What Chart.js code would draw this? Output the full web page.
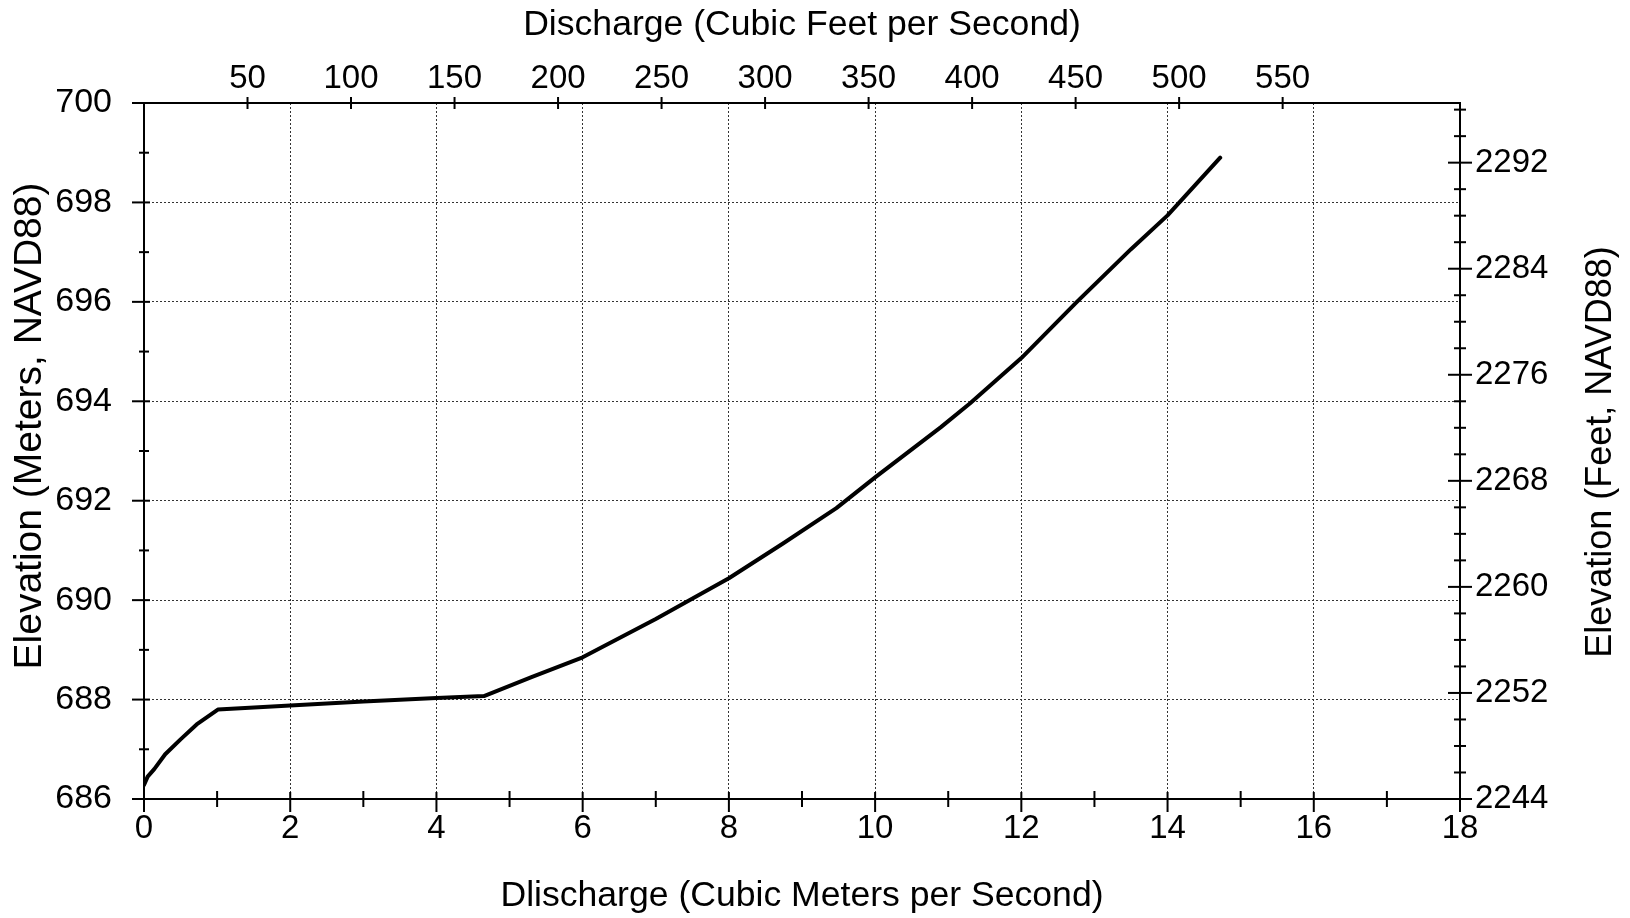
<!DOCTYPE html>
<html><head><meta charset="utf-8">
<script src="https://cdn.jsdelivr.net/npm/chart.js@4/dist/chart.umd.min.js"></script>
<style>html,body{margin:0;padding:0;background:#fff;}canvas{display:block;}</style>
</head><body>
<canvas id="c" width="1630" height="918"></canvas>
<script>
// ---- data ----
const dischargeCms = [0, 0.05, 0.14, 0.29, 0.5, 0.72, 1.01, 2.0, 3.0, 4.0, 4.65, 5.3, 6.0, 7.0, 8.0, 8.74, 9.47, 10.0, 10.9, 11.3, 12.0, 12.76, 13.5, 14.0, 14.72];
const elevationM   = [686.28, 686.45, 686.6, 686.9, 687.2, 687.5, 687.8, 687.88, 687.96, 688.03, 688.07, 688.45, 688.85, 689.62, 690.44, 691.14, 691.85, 692.47, 693.48, 693.96, 694.87, 696.0, 697.06, 697.74, 698.9];

// ---- tick lists ----
const xMajorTicks = [0, 2, 4, 6, 8, 10, 12, 14, 16, 18];
const xMinorTicks = [1, 3, 5, 7, 9, 11, 13, 15, 17];
const yMajorTicks = [686, 688, 690, 692, 694, 696, 698, 700];
const yMinorTicks = [687, 689, 691, 693, 695, 697, 699];
const cfsTicks = [50, 100, 150, 200, 250, 300, 350, 400, 450, 500, 550];
const feetMajorTicks = [2244, 2252, 2260, 2268, 2276, 2284, 2292];
const feetMinorTicks = [2246, 2248, 2250, 2254, 2256, 2258, 2262, 2264, 2266, 2270, 2272, 2274, 2278, 2280, 2282, 2286, 2288, 2290, 2294, 2296];

const CFS_PER_CMS = 35.3147;
const X_MIN = 0, X_MAX = 18, Y_MIN = 686, Y_MAX = 700, FT_MIN = 2244, FT_MAX = 2296.5;

const LEFT_TITLE = 'Elevation (Meters, NAVD88)';
const RIGHT_TITLE = 'Elevation (Feet, NAVD88)';

const FONT = '"Liberation Sans", Arial, Helvetica, sans-serif';
const tickFont = {family: FONT, size: 33};
const titleFont = {family: FONT, size: 35.6};
const GRID = '#333';

const frameTicks = {
  id: 'frameTicks',
  beforeDatasetsDraw(chart) {
    const {ctx, chartArea: a, scales} = chart;
    ctx.save();
    ctx.strokeStyle = '#000';
    ctx.lineWidth = 2;
    ctx.setLineDash([]);
    ctx.strokeRect(a.left, a.top, a.right - a.left, a.bottom - a.top);
    const seg = (x1, y1, x2, y2) => { ctx.beginPath(); ctx.moveTo(x1, y1); ctx.lineTo(x2, y2); ctx.stroke(); };
    xMajorTicks.forEach(v => { const p = scales.x.getPixelForValue(v); seg(p, a.bottom - 7, p, a.bottom + 13); });
    xMinorTicks.forEach(v => { const p = scales.x.getPixelForValue(v); seg(p, a.bottom - 8, p, a.bottom + 8); });
    cfsTicks.forEach(v => { const p = scales.x2.getPixelForValue(v); seg(p, a.top - 6, p, a.top + 6); });
    yMajorTicks.forEach(v => { const p = scales.y.getPixelForValue(v); seg(a.left - 12, p, a.left + 6, p); });
    yMinorTicks.forEach(v => { const p = scales.y.getPixelForValue(v); seg(a.left - 5, p, a.left + 5, p); });
    feetMajorTicks.forEach(v => { const p = scales.y2.getPixelForValue(v); seg(a.right - 12, p, a.right + 12, p); });
    feetMinorTicks.forEach(v => { const p = scales.y2.getPixelForValue(v); seg(a.right - 6, p, a.right + 6, p); });
    ctx.restore();
  },
  afterDraw(chart) {
    const {ctx, chartArea: a, width} = chart;
    const midY = (a.top + a.bottom) / 2;
    const vtext = (txt, x, y, size) => {
      ctx.save();
      ctx.translate(x, y);
      ctx.rotate(-Math.PI / 2);
      ctx.fillStyle = '#000';
      ctx.font = size + 'px ' + FONT;
      ctx.textAlign = 'center';
      ctx.textBaseline = 'middle';
      ctx.fillText(txt, 0, 0);
      ctx.restore();
    };
    vtext(LEFT_TITLE, 30, midY - 25, 39);
    vtext(RIGHT_TITLE, width - 29, midY + 1, 36);
  }
};

const interior = (lo, hi) => ctx => (ctx.tick && ctx.tick.value > lo && ctx.tick.value < hi) ? GRID : 'rgba(0,0,0,0)';
const plain = v => String(v);

new Chart(document.getElementById('c'), {
  type: 'line',
  data: {
    datasets: [{
      data: dischargeCms.map((x, i) => ({x: x, y: elevationM[i]})),
      borderColor: '#000',
      borderWidth: 4,
      pointRadius: 0,
      tension: 0,
      borderCapStyle: 'round',
      borderJoinStyle: 'round',
      fill: false,
      xAxisID: 'x',
      yAxisID: 'y'
    }]
  },
  options: {
    responsive: false,
    animation: false,
    devicePixelRatio: 1,
    layout: {padding: 0},
    plugins: {legend: {display: false}, tooltip: {enabled: false}},
    scales: {
      x: {
        type: 'linear', position: 'bottom', min: X_MIN, max: X_MAX,
        afterBuildTicks: s => { s.ticks = xMajorTicks.map(v => ({value: v})); },
        afterFit: s => { s.height = 119; },
        grid: {drawTicks: false, color: interior(X_MIN, X_MAX), lineWidth: 1},
        border: {display: false, dash: [2, 2]},
        ticks: {padding: 10, color: '#000', font: tickFont, maxRotation: 0, autoSkip: false, callback: plain},
        title: {display: true, text: 'Dlischarge (Cubic Meters per Second)', color: '#000', font: titleFont, padding: {top: 0, bottom: 0}}
      },
      x2: {
        type: 'linear', position: 'top', min: X_MIN, max: X_MAX * CFS_PER_CMS,
        afterBuildTicks: s => { s.ticks = cfsTicks.map(v => ({value: v})); },
        afterFit: s => { s.height = 103; },
        grid: {drawTicks: false, drawOnChartArea: false},
        border: {display: false},
        ticks: {padding: 4, color: '#000', font: tickFont, maxRotation: 0, autoSkip: false, callback: plain},
        title: {display: true, text: 'Discharge (Cubic Feet per Second)', color: '#000', font: titleFont, padding: {top: 4, bottom: 0}}
      },
      y: {
        type: 'linear', position: 'left', min: Y_MIN, max: Y_MAX,
        afterBuildTicks: s => { s.ticks = yMajorTicks.map(v => ({value: v})); },
        afterFit: s => { s.width = 144; },
        grid: {drawTicks: false, color: interior(Y_MIN, Y_MAX), lineWidth: 1},
        border: {display: false, dash: [2, 2]},
        ticks: {padding: 32, color: '#000', font: {family: FONT, size: 34}, autoSkip: false, callback: plain},
        title: {display: false}
      },
      y2: {
        type: 'linear', position: 'right', min: FT_MIN, max: FT_MAX,
        afterBuildTicks: s => { s.ticks = feetMajorTicks.map(v => ({value: v})); },
        afterFit: s => { s.width = 170; },
        grid: {drawTicks: false, drawOnChartArea: false},
        border: {display: false},
        ticks: {padding: 15, color: '#000', font: tickFont, autoSkip: false, callback: plain},
        title: {display: false}
      }
    }
  },
  plugins: [frameTicks]
});
</script>
</body></html>
